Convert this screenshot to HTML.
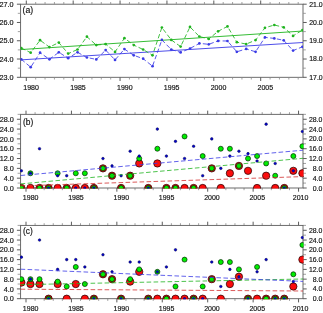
<!DOCTYPE html>
<html><head><meta charset="utf-8"><title>figure</title>
<style>
html,body{margin:0;padding:0;background:#fff;overflow:hidden}
svg{display:block;will-change:transform;opacity:0.999;font-family:"Liberation Sans",Arial,Helvetica,sans-serif}
</style></head><body>
<svg width="323" height="313" viewBox="0 0 323 313">
<rect x="0" y="0" width="323" height="313" fill="#ffffff"/>
<rect x="20.6" y="4.2" width="282.40" height="73.10" fill="none" stroke="#5c5c5c" stroke-width="0.9"/>
<line x1="16.90" y1="77.30" x2="20.60" y2="77.30" stroke="#5c5c5c" stroke-width="1.0" />
<line x1="303.00" y1="77.30" x2="306.70" y2="77.30" stroke="#5c5c5c" stroke-width="1.0" />
<text x="13.60" y="79.90" font-size="7.25" text-anchor="end" fill="#141414" stroke="#141414" stroke-width="0.17">23.0</text>
<text x="322.70" y="79.75" font-size="6.9" text-anchor="end" fill="#141414" stroke="#141414" stroke-width="0.17">17.0</text>
<line x1="17.80" y1="68.16" x2="20.60" y2="68.16" stroke="#8a8a8a" stroke-width="0.8" />
<line x1="303.00" y1="68.16" x2="305.80" y2="68.16" stroke="#8a8a8a" stroke-width="0.8" />
<line x1="16.90" y1="59.02" x2="20.60" y2="59.02" stroke="#5c5c5c" stroke-width="1.0" />
<line x1="303.00" y1="59.02" x2="306.70" y2="59.02" stroke="#5c5c5c" stroke-width="1.0" />
<text x="13.60" y="61.62" font-size="7.25" text-anchor="end" fill="#141414" stroke="#141414" stroke-width="0.17">24.0</text>
<text x="322.70" y="61.48" font-size="6.9" text-anchor="end" fill="#141414" stroke="#141414" stroke-width="0.17">18.0</text>
<line x1="17.80" y1="49.89" x2="20.60" y2="49.89" stroke="#8a8a8a" stroke-width="0.8" />
<line x1="303.00" y1="49.89" x2="305.80" y2="49.89" stroke="#8a8a8a" stroke-width="0.8" />
<line x1="16.90" y1="40.75" x2="20.60" y2="40.75" stroke="#5c5c5c" stroke-width="1.0" />
<line x1="303.00" y1="40.75" x2="306.70" y2="40.75" stroke="#5c5c5c" stroke-width="1.0" />
<text x="13.60" y="43.35" font-size="7.25" text-anchor="end" fill="#141414" stroke="#141414" stroke-width="0.17">25.0</text>
<text x="322.70" y="43.20" font-size="6.9" text-anchor="end" fill="#141414" stroke="#141414" stroke-width="0.17">19.0</text>
<line x1="17.80" y1="31.61" x2="20.60" y2="31.61" stroke="#8a8a8a" stroke-width="0.8" />
<line x1="303.00" y1="31.61" x2="305.80" y2="31.61" stroke="#8a8a8a" stroke-width="0.8" />
<line x1="16.90" y1="22.48" x2="20.60" y2="22.48" stroke="#5c5c5c" stroke-width="1.0" />
<line x1="303.00" y1="22.48" x2="306.70" y2="22.48" stroke="#5c5c5c" stroke-width="1.0" />
<text x="13.60" y="25.08" font-size="7.25" text-anchor="end" fill="#141414" stroke="#141414" stroke-width="0.17">26.0</text>
<text x="322.70" y="24.93" font-size="6.9" text-anchor="end" fill="#141414" stroke="#141414" stroke-width="0.17">20.0</text>
<line x1="17.80" y1="13.34" x2="20.60" y2="13.34" stroke="#8a8a8a" stroke-width="0.8" />
<line x1="303.00" y1="13.34" x2="305.80" y2="13.34" stroke="#8a8a8a" stroke-width="0.8" />
<line x1="16.90" y1="4.20" x2="20.60" y2="4.20" stroke="#5c5c5c" stroke-width="1.0" />
<line x1="303.00" y1="4.20" x2="306.70" y2="4.20" stroke="#5c5c5c" stroke-width="1.0" />
<text x="13.60" y="6.80" font-size="7.25" text-anchor="end" fill="#141414" stroke="#141414" stroke-width="0.17">27.0</text>
<text x="322.70" y="6.65" font-size="6.9" text-anchor="end" fill="#141414" stroke="#141414" stroke-width="0.17">21.0</text>
<line x1="26.30" y1="0.50" x2="26.30" y2="4.20" stroke="#5c5c5c" stroke-width="1.0" />
<line x1="26.30" y1="77.30" x2="26.30" y2="81.00" stroke="#5c5c5c" stroke-width="1.0" />
<line x1="35.68" y1="2.00" x2="35.68" y2="4.20" stroke="#8a8a8a" stroke-width="0.8" />
<line x1="35.68" y1="77.30" x2="35.68" y2="79.50" stroke="#8a8a8a" stroke-width="0.8" />
<line x1="45.05" y1="2.00" x2="45.05" y2="4.20" stroke="#8a8a8a" stroke-width="0.8" />
<line x1="45.05" y1="77.30" x2="45.05" y2="79.50" stroke="#8a8a8a" stroke-width="0.8" />
<line x1="54.43" y1="2.00" x2="54.43" y2="4.20" stroke="#8a8a8a" stroke-width="0.8" />
<line x1="54.43" y1="77.30" x2="54.43" y2="79.50" stroke="#8a8a8a" stroke-width="0.8" />
<line x1="63.80" y1="2.00" x2="63.80" y2="4.20" stroke="#8a8a8a" stroke-width="0.8" />
<line x1="63.80" y1="77.30" x2="63.80" y2="79.50" stroke="#8a8a8a" stroke-width="0.8" />
<line x1="73.18" y1="0.50" x2="73.18" y2="4.20" stroke="#5c5c5c" stroke-width="1.0" />
<line x1="73.18" y1="77.30" x2="73.18" y2="81.00" stroke="#5c5c5c" stroke-width="1.0" />
<line x1="82.56" y1="2.00" x2="82.56" y2="4.20" stroke="#8a8a8a" stroke-width="0.8" />
<line x1="82.56" y1="77.30" x2="82.56" y2="79.50" stroke="#8a8a8a" stroke-width="0.8" />
<line x1="91.93" y1="2.00" x2="91.93" y2="4.20" stroke="#8a8a8a" stroke-width="0.8" />
<line x1="91.93" y1="77.30" x2="91.93" y2="79.50" stroke="#8a8a8a" stroke-width="0.8" />
<line x1="101.31" y1="2.00" x2="101.31" y2="4.20" stroke="#8a8a8a" stroke-width="0.8" />
<line x1="101.31" y1="77.30" x2="101.31" y2="79.50" stroke="#8a8a8a" stroke-width="0.8" />
<line x1="110.68" y1="2.00" x2="110.68" y2="4.20" stroke="#8a8a8a" stroke-width="0.8" />
<line x1="110.68" y1="77.30" x2="110.68" y2="79.50" stroke="#8a8a8a" stroke-width="0.8" />
<line x1="120.06" y1="0.50" x2="120.06" y2="4.20" stroke="#5c5c5c" stroke-width="1.0" />
<line x1="120.06" y1="77.30" x2="120.06" y2="81.00" stroke="#5c5c5c" stroke-width="1.0" />
<line x1="129.44" y1="2.00" x2="129.44" y2="4.20" stroke="#8a8a8a" stroke-width="0.8" />
<line x1="129.44" y1="77.30" x2="129.44" y2="79.50" stroke="#8a8a8a" stroke-width="0.8" />
<line x1="138.81" y1="2.00" x2="138.81" y2="4.20" stroke="#8a8a8a" stroke-width="0.8" />
<line x1="138.81" y1="77.30" x2="138.81" y2="79.50" stroke="#8a8a8a" stroke-width="0.8" />
<line x1="148.19" y1="2.00" x2="148.19" y2="4.20" stroke="#8a8a8a" stroke-width="0.8" />
<line x1="148.19" y1="77.30" x2="148.19" y2="79.50" stroke="#8a8a8a" stroke-width="0.8" />
<line x1="157.56" y1="2.00" x2="157.56" y2="4.20" stroke="#8a8a8a" stroke-width="0.8" />
<line x1="157.56" y1="77.30" x2="157.56" y2="79.50" stroke="#8a8a8a" stroke-width="0.8" />
<line x1="166.94" y1="0.50" x2="166.94" y2="4.20" stroke="#5c5c5c" stroke-width="1.0" />
<line x1="166.94" y1="77.30" x2="166.94" y2="81.00" stroke="#5c5c5c" stroke-width="1.0" />
<line x1="176.32" y1="2.00" x2="176.32" y2="4.20" stroke="#8a8a8a" stroke-width="0.8" />
<line x1="176.32" y1="77.30" x2="176.32" y2="79.50" stroke="#8a8a8a" stroke-width="0.8" />
<line x1="185.69" y1="2.00" x2="185.69" y2="4.20" stroke="#8a8a8a" stroke-width="0.8" />
<line x1="185.69" y1="77.30" x2="185.69" y2="79.50" stroke="#8a8a8a" stroke-width="0.8" />
<line x1="195.07" y1="2.00" x2="195.07" y2="4.20" stroke="#8a8a8a" stroke-width="0.8" />
<line x1="195.07" y1="77.30" x2="195.07" y2="79.50" stroke="#8a8a8a" stroke-width="0.8" />
<line x1="204.44" y1="2.00" x2="204.44" y2="4.20" stroke="#8a8a8a" stroke-width="0.8" />
<line x1="204.44" y1="77.30" x2="204.44" y2="79.50" stroke="#8a8a8a" stroke-width="0.8" />
<line x1="213.82" y1="0.50" x2="213.82" y2="4.20" stroke="#5c5c5c" stroke-width="1.0" />
<line x1="213.82" y1="77.30" x2="213.82" y2="81.00" stroke="#5c5c5c" stroke-width="1.0" />
<line x1="223.20" y1="2.00" x2="223.20" y2="4.20" stroke="#8a8a8a" stroke-width="0.8" />
<line x1="223.20" y1="77.30" x2="223.20" y2="79.50" stroke="#8a8a8a" stroke-width="0.8" />
<line x1="232.57" y1="2.00" x2="232.57" y2="4.20" stroke="#8a8a8a" stroke-width="0.8" />
<line x1="232.57" y1="77.30" x2="232.57" y2="79.50" stroke="#8a8a8a" stroke-width="0.8" />
<line x1="241.95" y1="2.00" x2="241.95" y2="4.20" stroke="#8a8a8a" stroke-width="0.8" />
<line x1="241.95" y1="77.30" x2="241.95" y2="79.50" stroke="#8a8a8a" stroke-width="0.8" />
<line x1="251.32" y1="2.00" x2="251.32" y2="4.20" stroke="#8a8a8a" stroke-width="0.8" />
<line x1="251.32" y1="77.30" x2="251.32" y2="79.50" stroke="#8a8a8a" stroke-width="0.8" />
<line x1="260.70" y1="0.50" x2="260.70" y2="4.20" stroke="#5c5c5c" stroke-width="1.0" />
<line x1="260.70" y1="77.30" x2="260.70" y2="81.00" stroke="#5c5c5c" stroke-width="1.0" />
<line x1="270.08" y1="2.00" x2="270.08" y2="4.20" stroke="#8a8a8a" stroke-width="0.8" />
<line x1="270.08" y1="77.30" x2="270.08" y2="79.50" stroke="#8a8a8a" stroke-width="0.8" />
<line x1="279.45" y1="2.00" x2="279.45" y2="4.20" stroke="#8a8a8a" stroke-width="0.8" />
<line x1="279.45" y1="77.30" x2="279.45" y2="79.50" stroke="#8a8a8a" stroke-width="0.8" />
<line x1="288.83" y1="2.00" x2="288.83" y2="4.20" stroke="#8a8a8a" stroke-width="0.8" />
<line x1="288.83" y1="77.30" x2="288.83" y2="79.50" stroke="#8a8a8a" stroke-width="0.8" />
<line x1="298.20" y1="2.00" x2="298.20" y2="4.20" stroke="#8a8a8a" stroke-width="0.8" />
<line x1="298.20" y1="77.30" x2="298.20" y2="79.50" stroke="#8a8a8a" stroke-width="0.8" />
<text x="31.10" y="90.20" font-size="7.0" text-anchor="middle" fill="#141414" stroke="#141414" stroke-width="0.17">1980</text>
<text x="77.95" y="90.20" font-size="7.0" text-anchor="middle" fill="#141414" stroke="#141414" stroke-width="0.17">1985</text>
<text x="124.80" y="90.20" font-size="7.0" text-anchor="middle" fill="#141414" stroke="#141414" stroke-width="0.17">1990</text>
<text x="171.65" y="90.20" font-size="7.0" text-anchor="middle" fill="#141414" stroke="#141414" stroke-width="0.17">1995</text>
<text x="218.50" y="90.20" font-size="7.0" text-anchor="middle" fill="#141414" stroke="#141414" stroke-width="0.17">2000</text>
<text x="265.35" y="90.20" font-size="7.0" text-anchor="middle" fill="#141414" stroke="#141414" stroke-width="0.17">2005</text>
<text x="22.60" y="12.90" font-size="8.7" text-anchor="start" fill="#141414" stroke="#141414" stroke-width="0.17">(a)</text>
<line x1="20.60" y1="49.60" x2="303.00" y2="31.00" stroke="#1fb41f" stroke-width="0.9" />
<line x1="20.60" y1="59.90" x2="303.00" y2="42.50" stroke="#3a3ae6" stroke-width="0.9" />
<polyline points="21.33,48.00 30.70,52.70 40.07,40.20 49.44,47.10 58.81,42.60 68.18,53.60 77.55,49.50 86.92,36.70 96.29,45.10 105.66,44.10 115.03,51.90 124.40,38.20 133.77,45.10 143.14,49.50 152.51,55.30 161.88,27.50 171.25,39.90 180.62,46.60 189.99,26.90 199.36,36.50 208.73,39.00 218.10,31.30 227.47,26.40 236.84,42.20 246.21,44.10 255.58,40.10 264.95,27.80 274.32,25.00 283.69,27.30 293.06,35.90 302.43,30.10" fill="none" stroke="#1fb41f" stroke-width="0.85" stroke-dasharray="4.4 2.4" stroke-linejoin="round"/>
<polyline points="21.33,59.30 30.70,67.20 40.07,52.70 49.44,59.30 58.81,52.30 68.18,58.20 77.55,52.30 86.92,57.50 96.29,59.40 105.66,50.10 115.03,59.90 124.40,49.10 133.77,55.30 143.14,58.70 152.51,66.20 161.88,39.90 171.25,49.50 180.62,52.40 189.99,48.50 199.36,43.40 208.73,44.30 218.10,40.90 227.47,41.00 236.84,51.80 246.21,48.90 255.58,51.80 264.95,37.40 274.32,38.40 283.69,40.30 293.06,50.60 302.43,46.80" fill="none" stroke="#3a3ae6" stroke-width="0.85" stroke-dasharray="4.4 2.4" stroke-linejoin="round"/>
<clipPath id="ca"><rect x="20.6" y="4.2" width="282.40" height="73.10"/></clipPath>
<g clip-path="url(#ca)">
<circle cx="21.33" cy="48.00" r="1.35" fill="#1fb41f"/>
<circle cx="30.70" cy="52.70" r="1.35" fill="#1fb41f"/>
<circle cx="40.07" cy="40.20" r="1.35" fill="#1fb41f"/>
<circle cx="49.44" cy="47.10" r="1.35" fill="#1fb41f"/>
<circle cx="58.81" cy="42.60" r="1.35" fill="#1fb41f"/>
<circle cx="68.18" cy="53.60" r="1.35" fill="#1fb41f"/>
<circle cx="77.55" cy="49.50" r="1.35" fill="#1fb41f"/>
<circle cx="86.92" cy="36.70" r="1.35" fill="#1fb41f"/>
<circle cx="96.29" cy="45.10" r="1.35" fill="#1fb41f"/>
<circle cx="105.66" cy="44.10" r="1.35" fill="#1fb41f"/>
<circle cx="115.03" cy="51.90" r="1.35" fill="#1fb41f"/>
<circle cx="124.40" cy="38.20" r="1.35" fill="#1fb41f"/>
<circle cx="133.77" cy="45.10" r="1.35" fill="#1fb41f"/>
<circle cx="143.14" cy="49.50" r="1.35" fill="#1fb41f"/>
<circle cx="152.51" cy="55.30" r="1.35" fill="#1fb41f"/>
<circle cx="161.88" cy="27.50" r="1.35" fill="#1fb41f"/>
<circle cx="171.25" cy="39.90" r="1.35" fill="#1fb41f"/>
<circle cx="180.62" cy="46.60" r="1.35" fill="#1fb41f"/>
<circle cx="189.99" cy="26.90" r="1.35" fill="#1fb41f"/>
<circle cx="199.36" cy="36.50" r="1.35" fill="#1fb41f"/>
<circle cx="208.73" cy="39.00" r="1.35" fill="#1fb41f"/>
<circle cx="218.10" cy="31.30" r="1.35" fill="#1fb41f"/>
<circle cx="227.47" cy="26.40" r="1.35" fill="#1fb41f"/>
<circle cx="236.84" cy="42.20" r="1.35" fill="#1fb41f"/>
<circle cx="246.21" cy="44.10" r="1.35" fill="#1fb41f"/>
<circle cx="255.58" cy="40.10" r="1.35" fill="#1fb41f"/>
<circle cx="264.95" cy="27.80" r="1.35" fill="#1fb41f"/>
<circle cx="274.32" cy="25.00" r="1.35" fill="#1fb41f"/>
<circle cx="283.69" cy="27.30" r="1.35" fill="#1fb41f"/>
<circle cx="293.06" cy="35.90" r="1.35" fill="#1fb41f"/>
<circle cx="302.43" cy="30.10" r="1.35" fill="#1fb41f"/>
<circle cx="21.33" cy="59.30" r="1.35" fill="#3a3ae6"/>
<circle cx="30.70" cy="67.20" r="1.35" fill="#3a3ae6"/>
<circle cx="40.07" cy="52.70" r="1.35" fill="#3a3ae6"/>
<circle cx="49.44" cy="59.30" r="1.35" fill="#3a3ae6"/>
<circle cx="58.81" cy="52.30" r="1.35" fill="#3a3ae6"/>
<circle cx="68.18" cy="58.20" r="1.35" fill="#3a3ae6"/>
<circle cx="77.55" cy="52.30" r="1.35" fill="#3a3ae6"/>
<circle cx="86.92" cy="57.50" r="1.35" fill="#3a3ae6"/>
<circle cx="96.29" cy="59.40" r="1.35" fill="#3a3ae6"/>
<circle cx="105.66" cy="50.10" r="1.35" fill="#3a3ae6"/>
<circle cx="115.03" cy="59.90" r="1.35" fill="#3a3ae6"/>
<circle cx="124.40" cy="49.10" r="1.35" fill="#3a3ae6"/>
<circle cx="133.77" cy="55.30" r="1.35" fill="#3a3ae6"/>
<circle cx="143.14" cy="58.70" r="1.35" fill="#3a3ae6"/>
<circle cx="152.51" cy="66.20" r="1.35" fill="#3a3ae6"/>
<circle cx="161.88" cy="39.90" r="1.35" fill="#3a3ae6"/>
<circle cx="171.25" cy="49.50" r="1.35" fill="#3a3ae6"/>
<circle cx="180.62" cy="52.40" r="1.35" fill="#3a3ae6"/>
<circle cx="189.99" cy="48.50" r="1.35" fill="#3a3ae6"/>
<circle cx="199.36" cy="43.40" r="1.35" fill="#3a3ae6"/>
<circle cx="208.73" cy="44.30" r="1.35" fill="#3a3ae6"/>
<circle cx="218.10" cy="40.90" r="1.35" fill="#3a3ae6"/>
<circle cx="227.47" cy="41.00" r="1.35" fill="#3a3ae6"/>
<circle cx="236.84" cy="51.80" r="1.35" fill="#3a3ae6"/>
<circle cx="246.21" cy="48.90" r="1.35" fill="#3a3ae6"/>
<circle cx="255.58" cy="51.80" r="1.35" fill="#3a3ae6"/>
<circle cx="264.95" cy="37.40" r="1.35" fill="#3a3ae6"/>
<circle cx="274.32" cy="38.40" r="1.35" fill="#3a3ae6"/>
<circle cx="283.69" cy="40.30" r="1.35" fill="#3a3ae6"/>
<circle cx="293.06" cy="50.60" r="1.35" fill="#3a3ae6"/>
<circle cx="302.43" cy="46.80" r="1.35" fill="#3a3ae6"/>
</g>
<line x1="16.90" y1="188.00" x2="20.60" y2="188.00" stroke="#5c5c5c" stroke-width="1.0" />
<line x1="303.00" y1="188.00" x2="306.70" y2="188.00" stroke="#5c5c5c" stroke-width="1.0" />
<text x="13.80" y="190.60" font-size="7.25" text-anchor="end" fill="#141414" stroke="#141414" stroke-width="0.17">0.0</text>
<text x="322.30" y="190.50" font-size="6.9" text-anchor="end" fill="#141414" stroke="#141414" stroke-width="0.17">0.0</text>
<line x1="17.60" y1="183.09" x2="20.60" y2="183.09" stroke="#8a8a8a" stroke-width="0.8" />
<line x1="303.00" y1="183.09" x2="306.00" y2="183.09" stroke="#8a8a8a" stroke-width="0.8" />
<line x1="16.90" y1="178.18" x2="20.60" y2="178.18" stroke="#5c5c5c" stroke-width="1.0" />
<line x1="303.00" y1="178.18" x2="306.70" y2="178.18" stroke="#5c5c5c" stroke-width="1.0" />
<text x="13.80" y="180.78" font-size="7.25" text-anchor="end" fill="#141414" stroke="#141414" stroke-width="0.17">4.0</text>
<text x="322.30" y="180.68" font-size="6.9" text-anchor="end" fill="#141414" stroke="#141414" stroke-width="0.17">4.0</text>
<line x1="17.60" y1="173.27" x2="20.60" y2="173.27" stroke="#8a8a8a" stroke-width="0.8" />
<line x1="303.00" y1="173.27" x2="306.00" y2="173.27" stroke="#8a8a8a" stroke-width="0.8" />
<line x1="16.90" y1="168.36" x2="20.60" y2="168.36" stroke="#5c5c5c" stroke-width="1.0" />
<line x1="303.00" y1="168.36" x2="306.70" y2="168.36" stroke="#5c5c5c" stroke-width="1.0" />
<text x="13.80" y="170.96" font-size="7.25" text-anchor="end" fill="#141414" stroke="#141414" stroke-width="0.17">8.0</text>
<text x="322.30" y="170.86" font-size="6.9" text-anchor="end" fill="#141414" stroke="#141414" stroke-width="0.17">8.0</text>
<line x1="17.60" y1="163.45" x2="20.60" y2="163.45" stroke="#8a8a8a" stroke-width="0.8" />
<line x1="303.00" y1="163.45" x2="306.00" y2="163.45" stroke="#8a8a8a" stroke-width="0.8" />
<line x1="16.90" y1="158.54" x2="20.60" y2="158.54" stroke="#5c5c5c" stroke-width="1.0" />
<line x1="303.00" y1="158.54" x2="306.70" y2="158.54" stroke="#5c5c5c" stroke-width="1.0" />
<text x="13.80" y="161.14" font-size="7.25" text-anchor="end" fill="#141414" stroke="#141414" stroke-width="0.17">12.0</text>
<text x="322.30" y="161.04" font-size="6.9" text-anchor="end" fill="#141414" stroke="#141414" stroke-width="0.17">12.0</text>
<line x1="17.60" y1="153.63" x2="20.60" y2="153.63" stroke="#8a8a8a" stroke-width="0.8" />
<line x1="303.00" y1="153.63" x2="306.00" y2="153.63" stroke="#8a8a8a" stroke-width="0.8" />
<line x1="16.90" y1="148.72" x2="20.60" y2="148.72" stroke="#5c5c5c" stroke-width="1.0" />
<line x1="303.00" y1="148.72" x2="306.70" y2="148.72" stroke="#5c5c5c" stroke-width="1.0" />
<text x="13.80" y="151.32" font-size="7.25" text-anchor="end" fill="#141414" stroke="#141414" stroke-width="0.17">16.0</text>
<text x="322.30" y="151.22" font-size="6.9" text-anchor="end" fill="#141414" stroke="#141414" stroke-width="0.17">16.0</text>
<line x1="17.60" y1="143.81" x2="20.60" y2="143.81" stroke="#8a8a8a" stroke-width="0.8" />
<line x1="303.00" y1="143.81" x2="306.00" y2="143.81" stroke="#8a8a8a" stroke-width="0.8" />
<line x1="16.90" y1="138.90" x2="20.60" y2="138.90" stroke="#5c5c5c" stroke-width="1.0" />
<line x1="303.00" y1="138.90" x2="306.70" y2="138.90" stroke="#5c5c5c" stroke-width="1.0" />
<text x="13.80" y="141.50" font-size="7.25" text-anchor="end" fill="#141414" stroke="#141414" stroke-width="0.17">20.0</text>
<text x="322.30" y="141.40" font-size="6.9" text-anchor="end" fill="#141414" stroke="#141414" stroke-width="0.17">20.0</text>
<line x1="17.60" y1="133.99" x2="20.60" y2="133.99" stroke="#8a8a8a" stroke-width="0.8" />
<line x1="303.00" y1="133.99" x2="306.00" y2="133.99" stroke="#8a8a8a" stroke-width="0.8" />
<line x1="16.90" y1="129.08" x2="20.60" y2="129.08" stroke="#5c5c5c" stroke-width="1.0" />
<line x1="303.00" y1="129.08" x2="306.70" y2="129.08" stroke="#5c5c5c" stroke-width="1.0" />
<text x="13.80" y="131.68" font-size="7.25" text-anchor="end" fill="#141414" stroke="#141414" stroke-width="0.17">24.0</text>
<text x="322.30" y="131.58" font-size="6.9" text-anchor="end" fill="#141414" stroke="#141414" stroke-width="0.17">24.0</text>
<line x1="17.60" y1="124.17" x2="20.60" y2="124.17" stroke="#8a8a8a" stroke-width="0.8" />
<line x1="303.00" y1="124.17" x2="306.00" y2="124.17" stroke="#8a8a8a" stroke-width="0.8" />
<line x1="16.90" y1="119.26" x2="20.60" y2="119.26" stroke="#5c5c5c" stroke-width="1.0" />
<line x1="303.00" y1="119.26" x2="306.70" y2="119.26" stroke="#5c5c5c" stroke-width="1.0" />
<text x="13.80" y="121.86" font-size="7.25" text-anchor="end" fill="#141414" stroke="#141414" stroke-width="0.17">28.0</text>
<text x="322.30" y="121.76" font-size="6.9" text-anchor="end" fill="#141414" stroke="#141414" stroke-width="0.17">28.0</text>
<line x1="17.60" y1="114.35" x2="20.60" y2="114.35" stroke="#8a8a8a" stroke-width="0.8" />
<line x1="303.00" y1="114.35" x2="306.00" y2="114.35" stroke="#8a8a8a" stroke-width="0.8" />
<line x1="26.00" y1="110.65" x2="26.00" y2="114.35" stroke="#5c5c5c" stroke-width="1.0" />
<line x1="26.00" y1="188.00" x2="26.00" y2="191.70" stroke="#5c5c5c" stroke-width="1.0" />
<line x1="35.09" y1="112.15" x2="35.09" y2="114.35" stroke="#8a8a8a" stroke-width="0.8" />
<line x1="35.09" y1="188.00" x2="35.09" y2="190.20" stroke="#8a8a8a" stroke-width="0.8" />
<line x1="44.17" y1="112.15" x2="44.17" y2="114.35" stroke="#8a8a8a" stroke-width="0.8" />
<line x1="44.17" y1="188.00" x2="44.17" y2="190.20" stroke="#8a8a8a" stroke-width="0.8" />
<line x1="53.26" y1="112.15" x2="53.26" y2="114.35" stroke="#8a8a8a" stroke-width="0.8" />
<line x1="53.26" y1="188.00" x2="53.26" y2="190.20" stroke="#8a8a8a" stroke-width="0.8" />
<line x1="62.34" y1="112.15" x2="62.34" y2="114.35" stroke="#8a8a8a" stroke-width="0.8" />
<line x1="62.34" y1="188.00" x2="62.34" y2="190.20" stroke="#8a8a8a" stroke-width="0.8" />
<line x1="71.43" y1="110.65" x2="71.43" y2="114.35" stroke="#5c5c5c" stroke-width="1.0" />
<line x1="71.43" y1="188.00" x2="71.43" y2="191.70" stroke="#5c5c5c" stroke-width="1.0" />
<line x1="80.51" y1="112.15" x2="80.51" y2="114.35" stroke="#8a8a8a" stroke-width="0.8" />
<line x1="80.51" y1="188.00" x2="80.51" y2="190.20" stroke="#8a8a8a" stroke-width="0.8" />
<line x1="89.59" y1="112.15" x2="89.59" y2="114.35" stroke="#8a8a8a" stroke-width="0.8" />
<line x1="89.59" y1="188.00" x2="89.59" y2="190.20" stroke="#8a8a8a" stroke-width="0.8" />
<line x1="98.68" y1="112.15" x2="98.68" y2="114.35" stroke="#8a8a8a" stroke-width="0.8" />
<line x1="98.68" y1="188.00" x2="98.68" y2="190.20" stroke="#8a8a8a" stroke-width="0.8" />
<line x1="107.77" y1="112.15" x2="107.77" y2="114.35" stroke="#8a8a8a" stroke-width="0.8" />
<line x1="107.77" y1="188.00" x2="107.77" y2="190.20" stroke="#8a8a8a" stroke-width="0.8" />
<line x1="116.85" y1="110.65" x2="116.85" y2="114.35" stroke="#5c5c5c" stroke-width="1.0" />
<line x1="116.85" y1="188.00" x2="116.85" y2="191.70" stroke="#5c5c5c" stroke-width="1.0" />
<line x1="125.94" y1="112.15" x2="125.94" y2="114.35" stroke="#8a8a8a" stroke-width="0.8" />
<line x1="125.94" y1="188.00" x2="125.94" y2="190.20" stroke="#8a8a8a" stroke-width="0.8" />
<line x1="135.02" y1="112.15" x2="135.02" y2="114.35" stroke="#8a8a8a" stroke-width="0.8" />
<line x1="135.02" y1="188.00" x2="135.02" y2="190.20" stroke="#8a8a8a" stroke-width="0.8" />
<line x1="144.11" y1="112.15" x2="144.11" y2="114.35" stroke="#8a8a8a" stroke-width="0.8" />
<line x1="144.11" y1="188.00" x2="144.11" y2="190.20" stroke="#8a8a8a" stroke-width="0.8" />
<line x1="153.19" y1="112.15" x2="153.19" y2="114.35" stroke="#8a8a8a" stroke-width="0.8" />
<line x1="153.19" y1="188.00" x2="153.19" y2="190.20" stroke="#8a8a8a" stroke-width="0.8" />
<line x1="162.28" y1="110.65" x2="162.28" y2="114.35" stroke="#5c5c5c" stroke-width="1.0" />
<line x1="162.28" y1="188.00" x2="162.28" y2="191.70" stroke="#5c5c5c" stroke-width="1.0" />
<line x1="171.36" y1="112.15" x2="171.36" y2="114.35" stroke="#8a8a8a" stroke-width="0.8" />
<line x1="171.36" y1="188.00" x2="171.36" y2="190.20" stroke="#8a8a8a" stroke-width="0.8" />
<line x1="180.45" y1="112.15" x2="180.45" y2="114.35" stroke="#8a8a8a" stroke-width="0.8" />
<line x1="180.45" y1="188.00" x2="180.45" y2="190.20" stroke="#8a8a8a" stroke-width="0.8" />
<line x1="189.53" y1="112.15" x2="189.53" y2="114.35" stroke="#8a8a8a" stroke-width="0.8" />
<line x1="189.53" y1="188.00" x2="189.53" y2="190.20" stroke="#8a8a8a" stroke-width="0.8" />
<line x1="198.62" y1="112.15" x2="198.62" y2="114.35" stroke="#8a8a8a" stroke-width="0.8" />
<line x1="198.62" y1="188.00" x2="198.62" y2="190.20" stroke="#8a8a8a" stroke-width="0.8" />
<line x1="207.70" y1="110.65" x2="207.70" y2="114.35" stroke="#5c5c5c" stroke-width="1.0" />
<line x1="207.70" y1="188.00" x2="207.70" y2="191.70" stroke="#5c5c5c" stroke-width="1.0" />
<line x1="216.79" y1="112.15" x2="216.79" y2="114.35" stroke="#8a8a8a" stroke-width="0.8" />
<line x1="216.79" y1="188.00" x2="216.79" y2="190.20" stroke="#8a8a8a" stroke-width="0.8" />
<line x1="225.87" y1="112.15" x2="225.87" y2="114.35" stroke="#8a8a8a" stroke-width="0.8" />
<line x1="225.87" y1="188.00" x2="225.87" y2="190.20" stroke="#8a8a8a" stroke-width="0.8" />
<line x1="234.96" y1="112.15" x2="234.96" y2="114.35" stroke="#8a8a8a" stroke-width="0.8" />
<line x1="234.96" y1="188.00" x2="234.96" y2="190.20" stroke="#8a8a8a" stroke-width="0.8" />
<line x1="244.04" y1="112.15" x2="244.04" y2="114.35" stroke="#8a8a8a" stroke-width="0.8" />
<line x1="244.04" y1="188.00" x2="244.04" y2="190.20" stroke="#8a8a8a" stroke-width="0.8" />
<line x1="253.13" y1="110.65" x2="253.13" y2="114.35" stroke="#5c5c5c" stroke-width="1.0" />
<line x1="253.13" y1="188.00" x2="253.13" y2="191.70" stroke="#5c5c5c" stroke-width="1.0" />
<line x1="262.21" y1="112.15" x2="262.21" y2="114.35" stroke="#8a8a8a" stroke-width="0.8" />
<line x1="262.21" y1="188.00" x2="262.21" y2="190.20" stroke="#8a8a8a" stroke-width="0.8" />
<line x1="271.30" y1="112.15" x2="271.30" y2="114.35" stroke="#8a8a8a" stroke-width="0.8" />
<line x1="271.30" y1="188.00" x2="271.30" y2="190.20" stroke="#8a8a8a" stroke-width="0.8" />
<line x1="280.38" y1="112.15" x2="280.38" y2="114.35" stroke="#8a8a8a" stroke-width="0.8" />
<line x1="280.38" y1="188.00" x2="280.38" y2="190.20" stroke="#8a8a8a" stroke-width="0.8" />
<line x1="289.47" y1="112.15" x2="289.47" y2="114.35" stroke="#8a8a8a" stroke-width="0.8" />
<line x1="289.47" y1="188.00" x2="289.47" y2="190.20" stroke="#8a8a8a" stroke-width="0.8" />
<line x1="298.55" y1="110.65" x2="298.55" y2="114.35" stroke="#5c5c5c" stroke-width="1.0" />
<line x1="298.55" y1="188.00" x2="298.55" y2="191.70" stroke="#5c5c5c" stroke-width="1.0" />
<text x="30.65" y="199.80" font-size="7.0" text-anchor="middle" fill="#141414" stroke="#141414" stroke-width="0.17">1980</text>
<text x="75.97" y="199.80" font-size="7.0" text-anchor="middle" fill="#141414" stroke="#141414" stroke-width="0.17">1985</text>
<text x="121.30" y="199.80" font-size="7.0" text-anchor="middle" fill="#141414" stroke="#141414" stroke-width="0.17">1990</text>
<text x="166.62" y="199.80" font-size="7.0" text-anchor="middle" fill="#141414" stroke="#141414" stroke-width="0.17">1995</text>
<text x="211.95" y="199.80" font-size="7.0" text-anchor="middle" fill="#141414" stroke="#141414" stroke-width="0.17">2000</text>
<text x="257.27" y="199.80" font-size="7.0" text-anchor="middle" fill="#141414" stroke="#141414" stroke-width="0.17">2005</text>
<text x="300.60" y="199.80" font-size="7.0" text-anchor="middle" fill="#141414" stroke="#141414" stroke-width="0.17">2010</text>
<text x="23.00" y="124.80" font-size="8.4" text-anchor="start" fill="#141414" stroke="#141414" stroke-width="0.17">(b)</text>
<rect x="20.6" y="114.35" width="282.40" height="73.65" fill="none" stroke="#5c5c5c" stroke-width="0.9"/>
<clipPath id="cb"><rect x="20.1" y="114.35" width="283.40" height="74.25"/></clipPath>
<g clip-path="url(#cb)">
<circle cx="21.38" cy="188.00" r="3.65" fill="#fc0c0c" stroke="#2a0606" stroke-width="0.75"/>
<circle cx="30.45" cy="188.00" r="3.65" fill="#fc0c0c" stroke="#2a0606" stroke-width="0.75"/>
<circle cx="39.52" cy="188.00" r="3.65" fill="#fc0c0c" stroke="#2a0606" stroke-width="0.75"/>
<circle cx="48.58" cy="188.00" r="3.65" fill="#fc0c0c" stroke="#2a0606" stroke-width="0.75"/>
<circle cx="57.64" cy="188.00" r="3.65" fill="#fc0c0c" stroke="#2a0606" stroke-width="0.75"/>
<circle cx="66.71" cy="188.00" r="3.65" fill="#fc0c0c" stroke="#2a0606" stroke-width="0.75"/>
<circle cx="75.77" cy="188.00" r="3.65" fill="#fc0c0c" stroke="#2a0606" stroke-width="0.75"/>
<circle cx="84.84" cy="188.00" r="3.65" fill="#fc0c0c" stroke="#2a0606" stroke-width="0.75"/>
<circle cx="93.91" cy="188.00" r="3.65" fill="#fc0c0c" stroke="#2a0606" stroke-width="0.75"/>
<circle cx="102.97" cy="168.36" r="3.65" fill="#fc0c0c" stroke="#2a0606" stroke-width="0.75"/>
<circle cx="112.03" cy="175.72" r="3.65" fill="#fc0c0c" stroke="#2a0606" stroke-width="0.75"/>
<circle cx="121.10" cy="188.00" r="3.65" fill="#fc0c0c" stroke="#2a0606" stroke-width="0.75"/>
<circle cx="130.16" cy="175.72" r="3.65" fill="#fc0c0c" stroke="#2a0606" stroke-width="0.75"/>
<circle cx="139.23" cy="163.45" r="3.65" fill="#fc0c0c" stroke="#2a0606" stroke-width="0.75"/>
<circle cx="148.29" cy="188.00" r="3.65" fill="#fc0c0c" stroke="#2a0606" stroke-width="0.75"/>
<circle cx="157.36" cy="163.45" r="3.65" fill="#fc0c0c" stroke="#2a0606" stroke-width="0.75"/>
<circle cx="166.42" cy="188.00" r="3.65" fill="#fc0c0c" stroke="#2a0606" stroke-width="0.75"/>
<circle cx="175.49" cy="188.00" r="3.65" fill="#fc0c0c" stroke="#2a0606" stroke-width="0.75"/>
<circle cx="184.55" cy="188.00" r="3.65" fill="#fc0c0c" stroke="#2a0606" stroke-width="0.75"/>
<circle cx="193.62" cy="188.00" r="3.65" fill="#fc0c0c" stroke="#2a0606" stroke-width="0.75"/>
<circle cx="202.68" cy="188.00" r="3.65" fill="#fc0c0c" stroke="#2a0606" stroke-width="0.75"/>
<circle cx="211.75" cy="168.36" r="3.65" fill="#fc0c0c" stroke="#2a0606" stroke-width="0.75"/>
<circle cx="220.81" cy="188.00" r="3.65" fill="#fc0c0c" stroke="#2a0606" stroke-width="0.75"/>
<circle cx="229.88" cy="173.27" r="3.65" fill="#fc0c0c" stroke="#2a0606" stroke-width="0.75"/>
<circle cx="238.94" cy="165.91" r="3.65" fill="#fc0c0c" stroke="#2a0606" stroke-width="0.75"/>
<circle cx="248.01" cy="170.81" r="3.65" fill="#fc0c0c" stroke="#2a0606" stroke-width="0.75"/>
<circle cx="257.07" cy="188.00" r="3.65" fill="#fc0c0c" stroke="#2a0606" stroke-width="0.75"/>
<circle cx="266.14" cy="175.72" r="3.65" fill="#fc0c0c" stroke="#2a0606" stroke-width="0.75"/>
<circle cx="275.20" cy="188.00" r="3.65" fill="#fc0c0c" stroke="#2a0606" stroke-width="0.75"/>
<circle cx="284.27" cy="188.00" r="3.65" fill="#fc0c0c" stroke="#2a0606" stroke-width="0.75"/>
<circle cx="293.33" cy="170.81" r="3.65" fill="#fc0c0c" stroke="#2a0606" stroke-width="0.75"/>
<circle cx="302.40" cy="173.27" r="3.65" fill="#fc0c0c" stroke="#2a0606" stroke-width="0.75"/>
<circle cx="21.38" cy="188.00" r="2.5" fill="#00ee00" stroke="#062406" stroke-width="0.7"/>
<circle cx="30.45" cy="173.27" r="2.5" fill="#00ee00" stroke="#062406" stroke-width="0.7"/>
<circle cx="39.52" cy="188.00" r="2.5" fill="#00ee00" stroke="#062406" stroke-width="0.7"/>
<circle cx="48.58" cy="188.00" r="2.5" fill="#00ee00" stroke="#062406" stroke-width="0.7"/>
<circle cx="57.64" cy="173.27" r="2.5" fill="#00ee00" stroke="#062406" stroke-width="0.7"/>
<circle cx="66.71" cy="188.00" r="2.5" fill="#00ee00" stroke="#062406" stroke-width="0.7"/>
<circle cx="75.77" cy="173.27" r="2.5" fill="#00ee00" stroke="#062406" stroke-width="0.7"/>
<circle cx="84.84" cy="173.27" r="2.5" fill="#00ee00" stroke="#062406" stroke-width="0.7"/>
<circle cx="93.91" cy="188.00" r="2.5" fill="#00ee00" stroke="#062406" stroke-width="0.7"/>
<circle cx="102.97" cy="168.36" r="2.5" fill="#00ee00" stroke="#062406" stroke-width="0.7"/>
<circle cx="112.03" cy="175.72" r="2.5" fill="#00ee00" stroke="#062406" stroke-width="0.7"/>
<circle cx="121.10" cy="188.00" r="2.5" fill="#00ee00" stroke="#062406" stroke-width="0.7"/>
<circle cx="130.16" cy="175.72" r="2.5" fill="#00ee00" stroke="#062406" stroke-width="0.7"/>
<circle cx="139.23" cy="158.54" r="2.5" fill="#00ee00" stroke="#062406" stroke-width="0.7"/>
<circle cx="148.29" cy="188.00" r="2.5" fill="#00ee00" stroke="#062406" stroke-width="0.7"/>
<circle cx="157.36" cy="148.72" r="2.5" fill="#00ee00" stroke="#062406" stroke-width="0.7"/>
<circle cx="166.42" cy="188.00" r="2.5" fill="#00ee00" stroke="#062406" stroke-width="0.7"/>
<circle cx="175.49" cy="188.00" r="2.5" fill="#00ee00" stroke="#062406" stroke-width="0.7"/>
<circle cx="184.55" cy="136.44" r="2.5" fill="#00ee00" stroke="#062406" stroke-width="0.7"/>
<circle cx="193.62" cy="188.00" r="2.5" fill="#00ee00" stroke="#062406" stroke-width="0.7"/>
<circle cx="202.68" cy="156.09" r="2.5" fill="#00ee00" stroke="#062406" stroke-width="0.7"/>
<circle cx="211.75" cy="168.36" r="2.5" fill="#00ee00" stroke="#062406" stroke-width="0.7"/>
<circle cx="220.81" cy="148.72" r="2.5" fill="#00ee00" stroke="#062406" stroke-width="0.7"/>
<circle cx="229.88" cy="148.72" r="2.5" fill="#00ee00" stroke="#062406" stroke-width="0.7"/>
<circle cx="238.94" cy="165.91" r="2.5" fill="#00ee00" stroke="#062406" stroke-width="0.7"/>
<circle cx="248.01" cy="158.54" r="2.5" fill="#00ee00" stroke="#062406" stroke-width="0.7"/>
<circle cx="257.07" cy="156.09" r="2.5" fill="#00ee00" stroke="#062406" stroke-width="0.7"/>
<circle cx="266.14" cy="163.45" r="2.5" fill="#00ee00" stroke="#062406" stroke-width="0.7"/>
<circle cx="275.20" cy="175.72" r="2.5" fill="#00ee00" stroke="#062406" stroke-width="0.7"/>
<circle cx="284.27" cy="188.00" r="2.5" fill="#00ee00" stroke="#062406" stroke-width="0.7"/>
<circle cx="293.33" cy="156.09" r="2.5" fill="#00ee00" stroke="#062406" stroke-width="0.7"/>
<circle cx="302.40" cy="146.26" r="2.5" fill="#00ee00" stroke="#062406" stroke-width="0.7"/>
<circle cx="21.38" cy="170.81" r="1.3" fill="#0000d2" stroke="#0a0a46" stroke-width="0.5"/>
<circle cx="30.45" cy="173.27" r="1.3" fill="#0000d2" stroke="#0a0a46" stroke-width="0.5"/>
<circle cx="39.52" cy="148.72" r="1.3" fill="#0000d2" stroke="#0a0a46" stroke-width="0.5"/>
<circle cx="48.58" cy="188.00" r="1.3" fill="#0000d2" stroke="#0a0a46" stroke-width="0.5"/>
<circle cx="57.64" cy="175.72" r="1.3" fill="#0000d2" stroke="#0a0a46" stroke-width="0.5"/>
<circle cx="66.71" cy="175.72" r="1.3" fill="#0000d2" stroke="#0a0a46" stroke-width="0.5"/>
<circle cx="75.77" cy="188.00" r="1.3" fill="#0000d2" stroke="#0a0a46" stroke-width="0.5"/>
<circle cx="84.84" cy="188.00" r="1.3" fill="#0000d2" stroke="#0a0a46" stroke-width="0.5"/>
<circle cx="93.91" cy="188.00" r="1.3" fill="#0000d2" stroke="#0a0a46" stroke-width="0.5"/>
<circle cx="102.97" cy="158.54" r="1.3" fill="#0000d2" stroke="#0a0a46" stroke-width="0.5"/>
<circle cx="112.03" cy="165.91" r="1.3" fill="#0000d2" stroke="#0a0a46" stroke-width="0.5"/>
<circle cx="121.10" cy="175.72" r="1.3" fill="#0000d2" stroke="#0a0a46" stroke-width="0.5"/>
<circle cx="130.16" cy="151.18" r="1.3" fill="#0000d2" stroke="#0a0a46" stroke-width="0.5"/>
<circle cx="139.23" cy="156.09" r="1.3" fill="#0000d2" stroke="#0a0a46" stroke-width="0.5"/>
<circle cx="148.29" cy="188.00" r="1.3" fill="#0000d2" stroke="#0a0a46" stroke-width="0.5"/>
<circle cx="157.36" cy="129.08" r="1.3" fill="#0000d2" stroke="#0a0a46" stroke-width="0.5"/>
<circle cx="166.42" cy="156.09" r="1.3" fill="#0000d2" stroke="#0a0a46" stroke-width="0.5"/>
<circle cx="175.49" cy="141.35" r="1.3" fill="#0000d2" stroke="#0a0a46" stroke-width="0.5"/>
<circle cx="184.55" cy="158.54" r="1.3" fill="#0000d2" stroke="#0a0a46" stroke-width="0.5"/>
<circle cx="193.62" cy="146.26" r="1.3" fill="#0000d2" stroke="#0a0a46" stroke-width="0.5"/>
<circle cx="202.68" cy="175.72" r="1.3" fill="#0000d2" stroke="#0a0a46" stroke-width="0.5"/>
<circle cx="211.75" cy="138.90" r="1.3" fill="#0000d2" stroke="#0a0a46" stroke-width="0.5"/>
<circle cx="220.81" cy="168.36" r="1.3" fill="#0000d2" stroke="#0a0a46" stroke-width="0.5"/>
<circle cx="229.88" cy="156.09" r="1.3" fill="#0000d2" stroke="#0a0a46" stroke-width="0.5"/>
<circle cx="238.94" cy="151.18" r="1.3" fill="#0000d2" stroke="#0a0a46" stroke-width="0.5"/>
<circle cx="248.01" cy="153.63" r="1.3" fill="#0000d2" stroke="#0a0a46" stroke-width="0.5"/>
<circle cx="257.07" cy="161.00" r="1.3" fill="#0000d2" stroke="#0a0a46" stroke-width="0.5"/>
<circle cx="266.14" cy="124.17" r="1.3" fill="#0000d2" stroke="#0a0a46" stroke-width="0.5"/>
<circle cx="275.20" cy="163.45" r="1.3" fill="#0000d2" stroke="#0a0a46" stroke-width="0.5"/>
<circle cx="284.27" cy="188.00" r="1.3" fill="#0000d2" stroke="#0a0a46" stroke-width="0.5"/>
<circle cx="293.33" cy="170.81" r="1.3" fill="#0000d2" stroke="#0a0a46" stroke-width="0.5"/>
<circle cx="302.40" cy="131.53" r="1.3" fill="#0000d2" stroke="#0a0a46" stroke-width="0.5"/>
<line x1="20.60" y1="185.90" x2="303.00" y2="176.60" stroke="#d23030" stroke-width="0.8" stroke-dasharray="4.6 2.4"/>
<line x1="20.60" y1="183.90" x2="303.00" y2="158.30" stroke="#1fb41f" stroke-width="0.8" stroke-dasharray="4.6 2.4"/>
<line x1="20.60" y1="175.50" x2="303.00" y2="150.20" stroke="#3a3ae6" stroke-width="0.8" stroke-dasharray="4.6 2.4"/>
</g>
<line x1="16.90" y1="298.70" x2="20.60" y2="298.70" stroke="#5c5c5c" stroke-width="1.0" />
<line x1="303.00" y1="298.70" x2="306.70" y2="298.70" stroke="#5c5c5c" stroke-width="1.0" />
<text x="13.80" y="301.30" font-size="7.25" text-anchor="end" fill="#141414" stroke="#141414" stroke-width="0.17">0.0</text>
<text x="322.30" y="301.20" font-size="6.9" text-anchor="end" fill="#141414" stroke="#141414" stroke-width="0.17">0.0</text>
<line x1="17.60" y1="293.81" x2="20.60" y2="293.81" stroke="#8a8a8a" stroke-width="0.8" />
<line x1="303.00" y1="293.81" x2="306.00" y2="293.81" stroke="#8a8a8a" stroke-width="0.8" />
<line x1="16.90" y1="288.93" x2="20.60" y2="288.93" stroke="#5c5c5c" stroke-width="1.0" />
<line x1="303.00" y1="288.93" x2="306.70" y2="288.93" stroke="#5c5c5c" stroke-width="1.0" />
<text x="13.80" y="291.53" font-size="7.25" text-anchor="end" fill="#141414" stroke="#141414" stroke-width="0.17">4.0</text>
<text x="322.30" y="291.43" font-size="6.9" text-anchor="end" fill="#141414" stroke="#141414" stroke-width="0.17">4.0</text>
<line x1="17.60" y1="284.04" x2="20.60" y2="284.04" stroke="#8a8a8a" stroke-width="0.8" />
<line x1="303.00" y1="284.04" x2="306.00" y2="284.04" stroke="#8a8a8a" stroke-width="0.8" />
<line x1="16.90" y1="279.15" x2="20.60" y2="279.15" stroke="#5c5c5c" stroke-width="1.0" />
<line x1="303.00" y1="279.15" x2="306.70" y2="279.15" stroke="#5c5c5c" stroke-width="1.0" />
<text x="13.80" y="281.75" font-size="7.25" text-anchor="end" fill="#141414" stroke="#141414" stroke-width="0.17">8.0</text>
<text x="322.30" y="281.65" font-size="6.9" text-anchor="end" fill="#141414" stroke="#141414" stroke-width="0.17">8.0</text>
<line x1="17.60" y1="274.27" x2="20.60" y2="274.27" stroke="#8a8a8a" stroke-width="0.8" />
<line x1="303.00" y1="274.27" x2="306.00" y2="274.27" stroke="#8a8a8a" stroke-width="0.8" />
<line x1="16.90" y1="269.38" x2="20.60" y2="269.38" stroke="#5c5c5c" stroke-width="1.0" />
<line x1="303.00" y1="269.38" x2="306.70" y2="269.38" stroke="#5c5c5c" stroke-width="1.0" />
<text x="13.80" y="271.98" font-size="7.25" text-anchor="end" fill="#141414" stroke="#141414" stroke-width="0.17">12.0</text>
<text x="322.30" y="271.88" font-size="6.9" text-anchor="end" fill="#141414" stroke="#141414" stroke-width="0.17">12.0</text>
<line x1="17.60" y1="264.49" x2="20.60" y2="264.49" stroke="#8a8a8a" stroke-width="0.8" />
<line x1="303.00" y1="264.49" x2="306.00" y2="264.49" stroke="#8a8a8a" stroke-width="0.8" />
<line x1="16.90" y1="259.61" x2="20.60" y2="259.61" stroke="#5c5c5c" stroke-width="1.0" />
<line x1="303.00" y1="259.61" x2="306.70" y2="259.61" stroke="#5c5c5c" stroke-width="1.0" />
<text x="13.80" y="262.21" font-size="7.25" text-anchor="end" fill="#141414" stroke="#141414" stroke-width="0.17">16.0</text>
<text x="322.30" y="262.11" font-size="6.9" text-anchor="end" fill="#141414" stroke="#141414" stroke-width="0.17">16.0</text>
<line x1="17.60" y1="254.72" x2="20.60" y2="254.72" stroke="#8a8a8a" stroke-width="0.8" />
<line x1="303.00" y1="254.72" x2="306.00" y2="254.72" stroke="#8a8a8a" stroke-width="0.8" />
<line x1="16.90" y1="249.83" x2="20.60" y2="249.83" stroke="#5c5c5c" stroke-width="1.0" />
<line x1="303.00" y1="249.83" x2="306.70" y2="249.83" stroke="#5c5c5c" stroke-width="1.0" />
<text x="13.80" y="252.43" font-size="7.25" text-anchor="end" fill="#141414" stroke="#141414" stroke-width="0.17">20.0</text>
<text x="322.30" y="252.33" font-size="6.9" text-anchor="end" fill="#141414" stroke="#141414" stroke-width="0.17">20.0</text>
<line x1="17.60" y1="244.95" x2="20.60" y2="244.95" stroke="#8a8a8a" stroke-width="0.8" />
<line x1="303.00" y1="244.95" x2="306.00" y2="244.95" stroke="#8a8a8a" stroke-width="0.8" />
<line x1="16.90" y1="240.06" x2="20.60" y2="240.06" stroke="#5c5c5c" stroke-width="1.0" />
<line x1="303.00" y1="240.06" x2="306.70" y2="240.06" stroke="#5c5c5c" stroke-width="1.0" />
<text x="13.80" y="242.66" font-size="7.25" text-anchor="end" fill="#141414" stroke="#141414" stroke-width="0.17">24.0</text>
<text x="322.30" y="242.56" font-size="6.9" text-anchor="end" fill="#141414" stroke="#141414" stroke-width="0.17">24.0</text>
<line x1="17.60" y1="235.17" x2="20.60" y2="235.17" stroke="#8a8a8a" stroke-width="0.8" />
<line x1="303.00" y1="235.17" x2="306.00" y2="235.17" stroke="#8a8a8a" stroke-width="0.8" />
<line x1="16.90" y1="230.29" x2="20.60" y2="230.29" stroke="#5c5c5c" stroke-width="1.0" />
<line x1="303.00" y1="230.29" x2="306.70" y2="230.29" stroke="#5c5c5c" stroke-width="1.0" />
<text x="13.80" y="232.89" font-size="7.25" text-anchor="end" fill="#141414" stroke="#141414" stroke-width="0.17">28.0</text>
<text x="322.30" y="232.79" font-size="6.9" text-anchor="end" fill="#141414" stroke="#141414" stroke-width="0.17">28.0</text>
<line x1="17.60" y1="225.40" x2="20.60" y2="225.40" stroke="#8a8a8a" stroke-width="0.8" />
<line x1="303.00" y1="225.40" x2="306.00" y2="225.40" stroke="#8a8a8a" stroke-width="0.8" />
<line x1="26.00" y1="221.70" x2="26.00" y2="225.40" stroke="#5c5c5c" stroke-width="1.0" />
<line x1="26.00" y1="298.70" x2="26.00" y2="302.40" stroke="#5c5c5c" stroke-width="1.0" />
<line x1="35.09" y1="223.20" x2="35.09" y2="225.40" stroke="#8a8a8a" stroke-width="0.8" />
<line x1="35.09" y1="298.70" x2="35.09" y2="300.90" stroke="#8a8a8a" stroke-width="0.8" />
<line x1="44.17" y1="223.20" x2="44.17" y2="225.40" stroke="#8a8a8a" stroke-width="0.8" />
<line x1="44.17" y1="298.70" x2="44.17" y2="300.90" stroke="#8a8a8a" stroke-width="0.8" />
<line x1="53.26" y1="223.20" x2="53.26" y2="225.40" stroke="#8a8a8a" stroke-width="0.8" />
<line x1="53.26" y1="298.70" x2="53.26" y2="300.90" stroke="#8a8a8a" stroke-width="0.8" />
<line x1="62.34" y1="223.20" x2="62.34" y2="225.40" stroke="#8a8a8a" stroke-width="0.8" />
<line x1="62.34" y1="298.70" x2="62.34" y2="300.90" stroke="#8a8a8a" stroke-width="0.8" />
<line x1="71.43" y1="221.70" x2="71.43" y2="225.40" stroke="#5c5c5c" stroke-width="1.0" />
<line x1="71.43" y1="298.70" x2="71.43" y2="302.40" stroke="#5c5c5c" stroke-width="1.0" />
<line x1="80.51" y1="223.20" x2="80.51" y2="225.40" stroke="#8a8a8a" stroke-width="0.8" />
<line x1="80.51" y1="298.70" x2="80.51" y2="300.90" stroke="#8a8a8a" stroke-width="0.8" />
<line x1="89.59" y1="223.20" x2="89.59" y2="225.40" stroke="#8a8a8a" stroke-width="0.8" />
<line x1="89.59" y1="298.70" x2="89.59" y2="300.90" stroke="#8a8a8a" stroke-width="0.8" />
<line x1="98.68" y1="223.20" x2="98.68" y2="225.40" stroke="#8a8a8a" stroke-width="0.8" />
<line x1="98.68" y1="298.70" x2="98.68" y2="300.90" stroke="#8a8a8a" stroke-width="0.8" />
<line x1="107.77" y1="223.20" x2="107.77" y2="225.40" stroke="#8a8a8a" stroke-width="0.8" />
<line x1="107.77" y1="298.70" x2="107.77" y2="300.90" stroke="#8a8a8a" stroke-width="0.8" />
<line x1="116.85" y1="221.70" x2="116.85" y2="225.40" stroke="#5c5c5c" stroke-width="1.0" />
<line x1="116.85" y1="298.70" x2="116.85" y2="302.40" stroke="#5c5c5c" stroke-width="1.0" />
<line x1="125.94" y1="223.20" x2="125.94" y2="225.40" stroke="#8a8a8a" stroke-width="0.8" />
<line x1="125.94" y1="298.70" x2="125.94" y2="300.90" stroke="#8a8a8a" stroke-width="0.8" />
<line x1="135.02" y1="223.20" x2="135.02" y2="225.40" stroke="#8a8a8a" stroke-width="0.8" />
<line x1="135.02" y1="298.70" x2="135.02" y2="300.90" stroke="#8a8a8a" stroke-width="0.8" />
<line x1="144.11" y1="223.20" x2="144.11" y2="225.40" stroke="#8a8a8a" stroke-width="0.8" />
<line x1="144.11" y1="298.70" x2="144.11" y2="300.90" stroke="#8a8a8a" stroke-width="0.8" />
<line x1="153.19" y1="223.20" x2="153.19" y2="225.40" stroke="#8a8a8a" stroke-width="0.8" />
<line x1="153.19" y1="298.70" x2="153.19" y2="300.90" stroke="#8a8a8a" stroke-width="0.8" />
<line x1="162.28" y1="221.70" x2="162.28" y2="225.40" stroke="#5c5c5c" stroke-width="1.0" />
<line x1="162.28" y1="298.70" x2="162.28" y2="302.40" stroke="#5c5c5c" stroke-width="1.0" />
<line x1="171.36" y1="223.20" x2="171.36" y2="225.40" stroke="#8a8a8a" stroke-width="0.8" />
<line x1="171.36" y1="298.70" x2="171.36" y2="300.90" stroke="#8a8a8a" stroke-width="0.8" />
<line x1="180.45" y1="223.20" x2="180.45" y2="225.40" stroke="#8a8a8a" stroke-width="0.8" />
<line x1="180.45" y1="298.70" x2="180.45" y2="300.90" stroke="#8a8a8a" stroke-width="0.8" />
<line x1="189.53" y1="223.20" x2="189.53" y2="225.40" stroke="#8a8a8a" stroke-width="0.8" />
<line x1="189.53" y1="298.70" x2="189.53" y2="300.90" stroke="#8a8a8a" stroke-width="0.8" />
<line x1="198.62" y1="223.20" x2="198.62" y2="225.40" stroke="#8a8a8a" stroke-width="0.8" />
<line x1="198.62" y1="298.70" x2="198.62" y2="300.90" stroke="#8a8a8a" stroke-width="0.8" />
<line x1="207.70" y1="221.70" x2="207.70" y2="225.40" stroke="#5c5c5c" stroke-width="1.0" />
<line x1="207.70" y1="298.70" x2="207.70" y2="302.40" stroke="#5c5c5c" stroke-width="1.0" />
<line x1="216.79" y1="223.20" x2="216.79" y2="225.40" stroke="#8a8a8a" stroke-width="0.8" />
<line x1="216.79" y1="298.70" x2="216.79" y2="300.90" stroke="#8a8a8a" stroke-width="0.8" />
<line x1="225.87" y1="223.20" x2="225.87" y2="225.40" stroke="#8a8a8a" stroke-width="0.8" />
<line x1="225.87" y1="298.70" x2="225.87" y2="300.90" stroke="#8a8a8a" stroke-width="0.8" />
<line x1="234.96" y1="223.20" x2="234.96" y2="225.40" stroke="#8a8a8a" stroke-width="0.8" />
<line x1="234.96" y1="298.70" x2="234.96" y2="300.90" stroke="#8a8a8a" stroke-width="0.8" />
<line x1="244.04" y1="223.20" x2="244.04" y2="225.40" stroke="#8a8a8a" stroke-width="0.8" />
<line x1="244.04" y1="298.70" x2="244.04" y2="300.90" stroke="#8a8a8a" stroke-width="0.8" />
<line x1="253.13" y1="221.70" x2="253.13" y2="225.40" stroke="#5c5c5c" stroke-width="1.0" />
<line x1="253.13" y1="298.70" x2="253.13" y2="302.40" stroke="#5c5c5c" stroke-width="1.0" />
<line x1="262.21" y1="223.20" x2="262.21" y2="225.40" stroke="#8a8a8a" stroke-width="0.8" />
<line x1="262.21" y1="298.70" x2="262.21" y2="300.90" stroke="#8a8a8a" stroke-width="0.8" />
<line x1="271.30" y1="223.20" x2="271.30" y2="225.40" stroke="#8a8a8a" stroke-width="0.8" />
<line x1="271.30" y1="298.70" x2="271.30" y2="300.90" stroke="#8a8a8a" stroke-width="0.8" />
<line x1="280.38" y1="223.20" x2="280.38" y2="225.40" stroke="#8a8a8a" stroke-width="0.8" />
<line x1="280.38" y1="298.70" x2="280.38" y2="300.90" stroke="#8a8a8a" stroke-width="0.8" />
<line x1="289.47" y1="223.20" x2="289.47" y2="225.40" stroke="#8a8a8a" stroke-width="0.8" />
<line x1="289.47" y1="298.70" x2="289.47" y2="300.90" stroke="#8a8a8a" stroke-width="0.8" />
<line x1="298.55" y1="221.70" x2="298.55" y2="225.40" stroke="#5c5c5c" stroke-width="1.0" />
<line x1="298.55" y1="298.70" x2="298.55" y2="302.40" stroke="#5c5c5c" stroke-width="1.0" />
<text x="30.65" y="310.90" font-size="7.0" text-anchor="middle" fill="#141414" stroke="#141414" stroke-width="0.17">1980</text>
<text x="75.97" y="310.90" font-size="7.0" text-anchor="middle" fill="#141414" stroke="#141414" stroke-width="0.17">1985</text>
<text x="121.30" y="310.90" font-size="7.0" text-anchor="middle" fill="#141414" stroke="#141414" stroke-width="0.17">1990</text>
<text x="166.62" y="310.90" font-size="7.0" text-anchor="middle" fill="#141414" stroke="#141414" stroke-width="0.17">1995</text>
<text x="211.95" y="310.90" font-size="7.0" text-anchor="middle" fill="#141414" stroke="#141414" stroke-width="0.17">2000</text>
<text x="257.27" y="310.90" font-size="7.0" text-anchor="middle" fill="#141414" stroke="#141414" stroke-width="0.17">2005</text>
<text x="300.60" y="310.90" font-size="7.0" text-anchor="middle" fill="#141414" stroke="#141414" stroke-width="0.17">2010</text>
<text x="23.00" y="233.50" font-size="8.4" text-anchor="start" fill="#141414" stroke="#141414" stroke-width="0.17">(c)</text>
<rect x="20.6" y="225.4" width="282.40" height="73.30" fill="none" stroke="#5c5c5c" stroke-width="0.9"/>
<clipPath id="cc"><rect x="20.1" y="225.4" width="283.40" height="73.90"/></clipPath>
<g clip-path="url(#cc)">
<circle cx="21.38" cy="282.57" r="3.65" fill="#fc0c0c" stroke="#2a0606" stroke-width="0.75"/>
<circle cx="30.45" cy="284.04" r="3.65" fill="#fc0c0c" stroke="#2a0606" stroke-width="0.75"/>
<circle cx="39.52" cy="284.04" r="3.65" fill="#fc0c0c" stroke="#2a0606" stroke-width="0.75"/>
<circle cx="48.58" cy="298.70" r="3.65" fill="#fc0c0c" stroke="#2a0606" stroke-width="0.75"/>
<circle cx="57.64" cy="284.04" r="3.65" fill="#fc0c0c" stroke="#2a0606" stroke-width="0.75"/>
<circle cx="66.71" cy="298.70" r="3.65" fill="#fc0c0c" stroke="#2a0606" stroke-width="0.75"/>
<circle cx="75.77" cy="284.04" r="3.65" fill="#fc0c0c" stroke="#2a0606" stroke-width="0.75"/>
<circle cx="84.84" cy="298.70" r="3.65" fill="#fc0c0c" stroke="#2a0606" stroke-width="0.75"/>
<circle cx="93.91" cy="298.70" r="3.65" fill="#fc0c0c" stroke="#2a0606" stroke-width="0.75"/>
<circle cx="102.97" cy="274.27" r="3.65" fill="#fc0c0c" stroke="#2a0606" stroke-width="0.75"/>
<circle cx="112.03" cy="279.15" r="3.65" fill="#fc0c0c" stroke="#2a0606" stroke-width="0.75"/>
<circle cx="121.10" cy="298.70" r="3.65" fill="#fc0c0c" stroke="#2a0606" stroke-width="0.75"/>
<circle cx="130.16" cy="281.60" r="3.65" fill="#fc0c0c" stroke="#2a0606" stroke-width="0.75"/>
<circle cx="139.23" cy="271.82" r="3.65" fill="#fc0c0c" stroke="#2a0606" stroke-width="0.75"/>
<circle cx="148.29" cy="298.70" r="3.65" fill="#fc0c0c" stroke="#2a0606" stroke-width="0.75"/>
<circle cx="157.36" cy="298.70" r="3.65" fill="#fc0c0c" stroke="#2a0606" stroke-width="0.75"/>
<circle cx="166.42" cy="298.70" r="3.65" fill="#fc0c0c" stroke="#2a0606" stroke-width="0.75"/>
<circle cx="175.49" cy="298.70" r="3.65" fill="#fc0c0c" stroke="#2a0606" stroke-width="0.75"/>
<circle cx="184.55" cy="298.70" r="3.65" fill="#fc0c0c" stroke="#2a0606" stroke-width="0.75"/>
<circle cx="193.62" cy="298.70" r="3.65" fill="#fc0c0c" stroke="#2a0606" stroke-width="0.75"/>
<circle cx="202.68" cy="298.70" r="3.65" fill="#fc0c0c" stroke="#2a0606" stroke-width="0.75"/>
<circle cx="211.75" cy="279.15" r="3.65" fill="#fc0c0c" stroke="#2a0606" stroke-width="0.75"/>
<circle cx="220.81" cy="298.70" r="3.65" fill="#fc0c0c" stroke="#2a0606" stroke-width="0.75"/>
<circle cx="229.88" cy="284.04" r="3.65" fill="#fc0c0c" stroke="#2a0606" stroke-width="0.75"/>
<circle cx="238.94" cy="276.71" r="3.65" fill="#fc0c0c" stroke="#2a0606" stroke-width="0.75"/>
<circle cx="248.01" cy="298.70" r="3.65" fill="#fc0c0c" stroke="#2a0606" stroke-width="0.75"/>
<circle cx="257.07" cy="298.70" r="3.65" fill="#fc0c0c" stroke="#2a0606" stroke-width="0.75"/>
<circle cx="266.14" cy="298.70" r="3.65" fill="#fc0c0c" stroke="#2a0606" stroke-width="0.75"/>
<circle cx="275.20" cy="298.70" r="3.65" fill="#fc0c0c" stroke="#2a0606" stroke-width="0.75"/>
<circle cx="284.27" cy="298.70" r="3.65" fill="#fc0c0c" stroke="#2a0606" stroke-width="0.75"/>
<circle cx="293.33" cy="286.48" r="3.65" fill="#fc0c0c" stroke="#2a0606" stroke-width="0.75"/>
<circle cx="302.40" cy="259.61" r="3.65" fill="#fc0c0c" stroke="#2a0606" stroke-width="0.75"/>
<circle cx="21.38" cy="279.15" r="2.5" fill="#00ee00" stroke="#062406" stroke-width="0.7"/>
<circle cx="30.45" cy="279.15" r="2.5" fill="#00ee00" stroke="#062406" stroke-width="0.7"/>
<circle cx="39.52" cy="279.15" r="2.5" fill="#00ee00" stroke="#062406" stroke-width="0.7"/>
<circle cx="48.58" cy="298.70" r="2.5" fill="#00ee00" stroke="#062406" stroke-width="0.7"/>
<circle cx="57.64" cy="281.60" r="2.5" fill="#00ee00" stroke="#062406" stroke-width="0.7"/>
<circle cx="66.71" cy="286.48" r="2.5" fill="#00ee00" stroke="#062406" stroke-width="0.7"/>
<circle cx="75.77" cy="266.94" r="2.5" fill="#00ee00" stroke="#062406" stroke-width="0.7"/>
<circle cx="84.84" cy="284.04" r="2.5" fill="#00ee00" stroke="#062406" stroke-width="0.7"/>
<circle cx="93.91" cy="298.70" r="2.5" fill="#00ee00" stroke="#062406" stroke-width="0.7"/>
<circle cx="102.97" cy="274.27" r="2.5" fill="#00ee00" stroke="#062406" stroke-width="0.7"/>
<circle cx="112.03" cy="279.15" r="2.5" fill="#00ee00" stroke="#062406" stroke-width="0.7"/>
<circle cx="121.10" cy="298.70" r="2.5" fill="#00ee00" stroke="#062406" stroke-width="0.7"/>
<circle cx="130.16" cy="279.15" r="2.5" fill="#00ee00" stroke="#062406" stroke-width="0.7"/>
<circle cx="139.23" cy="269.38" r="2.5" fill="#00ee00" stroke="#062406" stroke-width="0.7"/>
<circle cx="148.29" cy="298.70" r="2.5" fill="#00ee00" stroke="#062406" stroke-width="0.7"/>
<circle cx="157.36" cy="271.82" r="2.5" fill="#00ee00" stroke="#062406" stroke-width="0.7"/>
<circle cx="166.42" cy="298.70" r="2.5" fill="#00ee00" stroke="#062406" stroke-width="0.7"/>
<circle cx="175.49" cy="286.48" r="2.5" fill="#00ee00" stroke="#062406" stroke-width="0.7"/>
<circle cx="184.55" cy="259.61" r="2.5" fill="#00ee00" stroke="#062406" stroke-width="0.7"/>
<circle cx="193.62" cy="298.70" r="2.5" fill="#00ee00" stroke="#062406" stroke-width="0.7"/>
<circle cx="202.68" cy="286.48" r="2.5" fill="#00ee00" stroke="#062406" stroke-width="0.7"/>
<circle cx="211.75" cy="279.15" r="2.5" fill="#00ee00" stroke="#062406" stroke-width="0.7"/>
<circle cx="220.81" cy="262.05" r="2.5" fill="#00ee00" stroke="#062406" stroke-width="0.7"/>
<circle cx="229.88" cy="262.05" r="2.5" fill="#00ee00" stroke="#062406" stroke-width="0.7"/>
<circle cx="238.94" cy="269.38" r="2.5" fill="#00ee00" stroke="#062406" stroke-width="0.7"/>
<circle cx="248.01" cy="298.70" r="2.5" fill="#00ee00" stroke="#062406" stroke-width="0.7"/>
<circle cx="257.07" cy="266.94" r="2.5" fill="#00ee00" stroke="#062406" stroke-width="0.7"/>
<circle cx="266.14" cy="298.70" r="2.5" fill="#00ee00" stroke="#062406" stroke-width="0.7"/>
<circle cx="275.20" cy="298.70" r="2.5" fill="#00ee00" stroke="#062406" stroke-width="0.7"/>
<circle cx="284.27" cy="298.70" r="2.5" fill="#00ee00" stroke="#062406" stroke-width="0.7"/>
<circle cx="293.33" cy="274.27" r="2.5" fill="#00ee00" stroke="#062406" stroke-width="0.7"/>
<circle cx="302.40" cy="244.95" r="2.5" fill="#00ee00" stroke="#062406" stroke-width="0.7"/>
<circle cx="21.38" cy="257.16" r="1.3" fill="#0000d2" stroke="#0a0a46" stroke-width="0.5"/>
<circle cx="30.45" cy="279.15" r="1.3" fill="#0000d2" stroke="#0a0a46" stroke-width="0.5"/>
<circle cx="39.52" cy="240.06" r="1.3" fill="#0000d2" stroke="#0a0a46" stroke-width="0.5"/>
<circle cx="48.58" cy="298.70" r="1.3" fill="#0000d2" stroke="#0a0a46" stroke-width="0.5"/>
<circle cx="57.64" cy="269.38" r="1.3" fill="#0000d2" stroke="#0a0a46" stroke-width="0.5"/>
<circle cx="66.71" cy="259.61" r="1.3" fill="#0000d2" stroke="#0a0a46" stroke-width="0.5"/>
<circle cx="75.77" cy="259.61" r="1.3" fill="#0000d2" stroke="#0a0a46" stroke-width="0.5"/>
<circle cx="84.84" cy="266.94" r="1.3" fill="#0000d2" stroke="#0a0a46" stroke-width="0.5"/>
<circle cx="93.91" cy="298.70" r="1.3" fill="#0000d2" stroke="#0a0a46" stroke-width="0.5"/>
<circle cx="102.97" cy="254.72" r="1.3" fill="#0000d2" stroke="#0a0a46" stroke-width="0.5"/>
<circle cx="112.03" cy="271.82" r="1.3" fill="#0000d2" stroke="#0a0a46" stroke-width="0.5"/>
<circle cx="121.10" cy="298.70" r="1.3" fill="#0000d2" stroke="#0a0a46" stroke-width="0.5"/>
<circle cx="130.16" cy="262.05" r="1.3" fill="#0000d2" stroke="#0a0a46" stroke-width="0.5"/>
<circle cx="139.23" cy="262.05" r="1.3" fill="#0000d2" stroke="#0a0a46" stroke-width="0.5"/>
<circle cx="148.29" cy="298.70" r="1.3" fill="#0000d2" stroke="#0a0a46" stroke-width="0.5"/>
<circle cx="157.36" cy="271.82" r="1.3" fill="#0000d2" stroke="#0a0a46" stroke-width="0.5"/>
<circle cx="166.42" cy="266.94" r="1.3" fill="#0000d2" stroke="#0a0a46" stroke-width="0.5"/>
<circle cx="175.49" cy="249.83" r="1.3" fill="#0000d2" stroke="#0a0a46" stroke-width="0.5"/>
<circle cx="184.55" cy="298.70" r="1.3" fill="#0000d2" stroke="#0a0a46" stroke-width="0.5"/>
<circle cx="193.62" cy="298.70" r="1.3" fill="#0000d2" stroke="#0a0a46" stroke-width="0.5"/>
<circle cx="202.68" cy="298.70" r="1.3" fill="#0000d2" stroke="#0a0a46" stroke-width="0.5"/>
<circle cx="211.75" cy="262.05" r="1.3" fill="#0000d2" stroke="#0a0a46" stroke-width="0.5"/>
<circle cx="220.81" cy="286.48" r="1.3" fill="#0000d2" stroke="#0a0a46" stroke-width="0.5"/>
<circle cx="229.88" cy="269.38" r="1.3" fill="#0000d2" stroke="#0a0a46" stroke-width="0.5"/>
<circle cx="238.94" cy="276.71" r="1.3" fill="#0000d2" stroke="#0a0a46" stroke-width="0.5"/>
<circle cx="248.01" cy="298.70" r="1.3" fill="#0000d2" stroke="#0a0a46" stroke-width="0.5"/>
<circle cx="257.07" cy="271.82" r="1.3" fill="#0000d2" stroke="#0a0a46" stroke-width="0.5"/>
<circle cx="266.14" cy="259.61" r="1.3" fill="#0000d2" stroke="#0a0a46" stroke-width="0.5"/>
<circle cx="275.20" cy="298.70" r="1.3" fill="#0000d2" stroke="#0a0a46" stroke-width="0.5"/>
<circle cx="284.27" cy="298.70" r="1.3" fill="#0000d2" stroke="#0a0a46" stroke-width="0.5"/>
<circle cx="293.33" cy="281.60" r="1.3" fill="#0000d2" stroke="#0a0a46" stroke-width="0.5"/>
<circle cx="302.40" cy="237.62" r="1.3" fill="#0000d2" stroke="#0a0a46" stroke-width="0.5"/>
<line x1="20.60" y1="289.20" x2="303.00" y2="291.00" stroke="#d23030" stroke-width="0.8" stroke-dasharray="4.6 2.4"/>
<line x1="20.60" y1="284.70" x2="303.00" y2="279.00" stroke="#1fb41f" stroke-width="0.8" stroke-dasharray="4.6 2.4"/>
<line x1="20.60" y1="269.20" x2="303.00" y2="281.40" stroke="#3a3ae6" stroke-width="0.8" stroke-dasharray="4.6 2.4"/>
</g>
</svg>
</body></html>
